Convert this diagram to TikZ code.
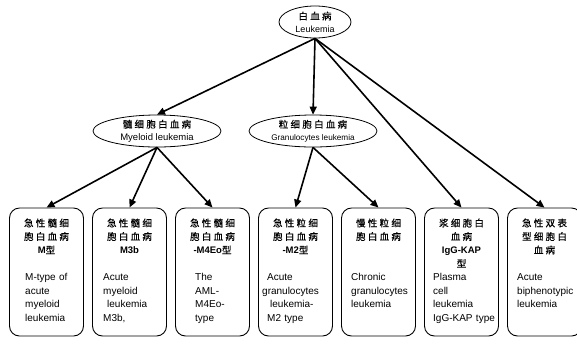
\documentclass[tikz,border=0pt]{standalone}
\usepackage{fontspec}
\setmainfont{Liberation Sans}
\newfontfamily\cjk[LetterSpace=24,FakeBold=0.5]{Noto Sans CJK SC}
\newcommand\latb[1]{{\normalfont\bfseries #1}}
\usetikzlibrary{shapes.geometric,arrows.meta}
\tikzset{
  ell/.style={draw, ellipse, line width=0.8pt, inner sep=0pt, align=center,
    minimum width=128pt, minimum height=32pt, font=\fontsize{9.5}{12.5}\selectfont},
  card/.style={draw, rounded corners=10pt, line width=0.9pt, minimum width=74pt,
    minimum height=128pt, inner sep=0pt},
  arr/.style={line width=1.6pt, -{Triangle[length=8pt,width=7pt]}},
  cntitle/.style={anchor=base, text width=74pt, align=center, inner sep=0pt,
    font=\fontsize{9.5}{13.5}\selectfont},
  entext/.style={anchor=base west, text width=80pt, align=left, inner sep=0pt,
    font=\fontsize{10}{13.5}\selectfont},
}
\begin{document}
\begin{tikzpicture}[x=1pt,y=-1pt]
\useasboundingbox (0,0) rectangle (577,346);
\clip (0,0) rectangle (577,346);
\fill[white] (0,0) rectangle (577,346);

% ellipses
\node[ell, minimum width=72pt] (top) at (315,22) {{\cjk 白血病}\\{\fontsize{9}{12}\selectfont Leukemia}};
\node[ell] (my) at (157,131) {{\cjk 髓细胞白血病}\\Myeloid leukemia};
\node[ell] (gr) at (313,131) {{\cjk 粒细胞白血病}\\{\fontsize{8.2}{12}\selectfont Granulocytes leukemia}};

% boxes
\node[card] (b1) at (46.5,272) {};
\node[card] (b2) at (129.5,272) {};
\node[card] (b3) at (212.5,272) {};
\node[card] (b4) at (295.5,272) {};
\node[card] (b5) at (378.5,272) {};
\node[card] (b6) at (461.5,272) {};
\node[card] (b7) at (544.5,272) {};

% titles
\node[cntitle] (t1) at (46.5,226.6) {\cjk 急性髓细\\胞白血病\\\latb{M}型};
\node[cntitle] (t2) at (129.5,226.6) {\cjk 急性髓细\\胞白血病\\\latb{M3b}};
\node[cntitle] (t3) at (212.5,226.6) {\cjk 急性髓细\\胞白血病\\\latb{-M4Eo}型};
\node[cntitle] (t4) at (295.5,226.6) {\cjk 急性粒细\\胞白血病\\\latb{-M2}型};
\node[cntitle] (t5) at (378.5,226.6) {\cjk 慢性粒细\\胞白血病};
\node[cntitle] (t6) at (461.5,226.6) {\cjk 浆细胞白\\血病\\\latb{IgG-KAP}\\型};
\node[cntitle] (t7) at (544.5,226.6) {\cjk 急性双表\\型细胞白\\血病};

% english
\node[entext] (e1) at (25,280.6) {M-type of\\acute\\myeloid\\leukemia};
\node[entext] (e2) at (103,280.6) {Acute\\myeloid\\\hspace*{4pt}leukemia\\M3b,};
\node[entext] (e3) at (195,280.6) {The\\AML-\\M4Eo-\\type};
\node[entext] (e4) at (262,280.6) {\hspace*{5pt}Acute\\granulocytes\\\hspace*{8pt}leukemia-\\\hspace*{5pt}M2 type};
\node[entext] (e5) at (351,280.6) {Chronic\\granulocytes\\leukemia};
\node[entext] (e6) at (433,280.6) {Plasma\\cell\\leukemia\\IgG-KAP type};
\node[entext] (e7) at (517,280.6) {Acute\\biphenotypic\\leukemia};

% connectors
\draw[arr] (top.south) -- (my.north);
\draw[arr] (top.south) -- (gr.north);
\draw[arr] (top.south) -- (b6.north);
\draw[arr] (top.south) -- (b7.north);
\draw[arr] (my.south) -- (b1.north);
\draw[arr] (my.south) -- (b2.north);
\draw[arr] (my.south) -- (b3.north);
\draw[arr] (gr.south) -- (b4.north);
\draw[arr] (gr.south) -- (b5.north);
\end{tikzpicture}
\end{document}
